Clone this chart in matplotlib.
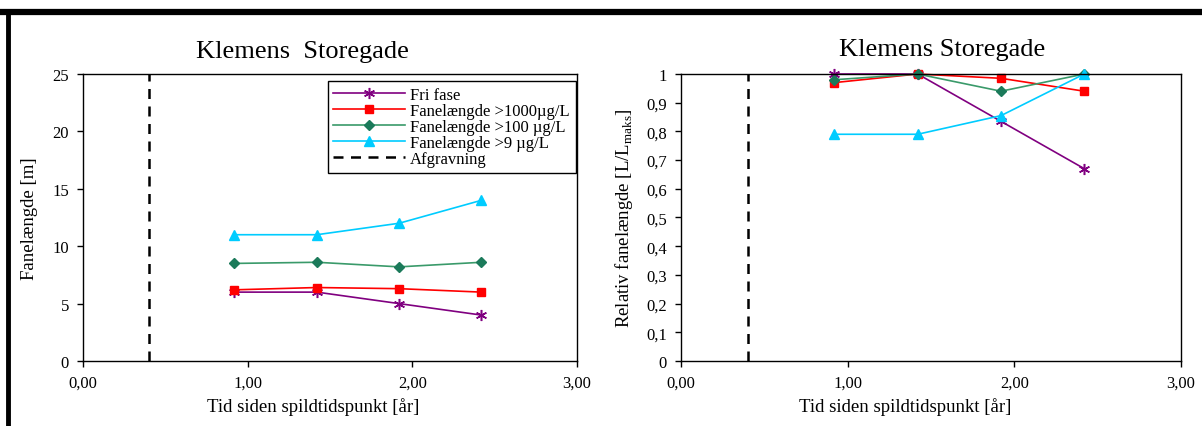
import matplotlib
matplotlib.use("Agg")
import matplotlib.pyplot as plt
from matplotlib.lines import Line2D
from matplotlib.ticker import FuncFormatter, MultipleLocator

plt.rcParams['font.family'] = ['Liberation Serif', 'DejaVu Serif']
plt.rcParams['mathtext.fontset'] = 'custom'
plt.rcParams['mathtext.rm'] = 'Liberation Serif'

# Data
tid = [0.92, 1.42, 1.92, 2.42]
afgravning = 0.4
series_names = ["Fri fase", "Fanelængde >1000µg/L", "Fanelængde >100 µg/L", "Fanelængde >9 µg/L"]
fri_fase = [6.0, 6.0, 5.0, 4.0]
fl_1000 = [6.2, 6.4, 6.3, 6.0]
fl_100 = [8.5, 8.6, 8.2, 8.6]
fl_9 = [11.0, 11.0, 12.0, 14.0]

rel_fri_fase = [1.0, 1.0, 0.835, 0.67]
rel_1000 = [0.97, 1.0, 0.985, 0.94]
rel_100 = [0.98, 1.0, 0.94, 1.0]
rel_9 = [0.79, 0.79, 0.855, 1.0]

styles = [
    dict(color='#800080', marker=(6, 2, 0), ms=8, mew=1.1, mec='#800080', mfc='#800080'),
    dict(color='#FF0000', marker='s', ms=6, mec='#FF0000', mfc='#FF0000'),
    dict(color='#3A9A6A', marker='D', ms=5, mec='#1B7A5A', mfc='#1B7A5A'),
    dict(color='#00CCFF', marker='^', ms=7, mec='#00CCFF', mfc='#00CCFF'),
]

fig = plt.figure(figsize=(12.02, 4.27), dpi=100)

def comma(fmt):
    return FuncFormatter(lambda v, p: (fmt % v).replace('.', ','))

def setup(ax, ymax, ystep, yfmt):
    ax.set_xlim(0, 3)
    ax.set_ylim(0, ymax)
    ax.xaxis.set_major_locator(MultipleLocator(1))
    ax.yaxis.set_major_locator(MultipleLocator(ystep))
    ax.xaxis.set_major_formatter(comma('%.2f'))
    ax.yaxis.set_major_formatter(yfmt)
    ax.tick_params(labelsize=12, direction='out', length=4, width=1, colors='black', pad=6)
    for s in ax.spines.values():
        s.set_linewidth(1.0)
        s.set_color('black')

# Left axes
ax1 = fig.add_axes([83/1202, 1-362/427, (577-83)/1202, (362-75)/427])
for vals, name, st in zip([fri_fase, fl_1000, fl_100, fl_9], series_names, styles):
    ax1.plot(tid, vals, lw=1.2, label=name, **st)
ax1.axvline(afgravning, color='black', lw=1.8, ls=(0, (4, 3)), label='Afgravning')
setup(ax1, 25, 5, FuncFormatter(lambda v, p: '%d' % v))
ax1.set_ylabel('Fanelængde [m]', fontsize=13.5, labelpad=10)
leg = ax1.legend(loc='upper right', bbox_to_anchor=(0.997, 0.975), fontsize=12,
                 frameon=True, fancybox=False, edgecolor='black', framealpha=1,
                 handlelength=4.3, borderpad=0.35, labelspacing=0.0, handletextpad=0.3,
                 borderaxespad=0.0)
leg.get_frame().set_linewidth(1.0)

# Right axes
ax2 = fig.add_axes([681/1202, 1-362/427, (1181-681)/1202, (362-75)/427])
for vals, name, st in zip([rel_fri_fase, rel_1000, rel_100, rel_9], series_names, styles):
    ax2.plot(tid, vals, lw=1.2, label=name, clip_on=False, **st)
ax2.axvline(afgravning, color='black', lw=1.8, ls=(0, (4, 3)))
setup(ax2, 1, 0.1, FuncFormatter(lambda v, p: '0' if abs(v) < 1e-9 else ('1' if abs(v-1) < 1e-9 else ('%.1f' % v).replace('.', ','))))
ax2.set_ylabel('Relativ fanelængde [L/L$_{\\mathrm{maks}}$]', fontsize=13.5, labelpad=8)

# Titles and x labels
fig.text(302/1202, 1-52/427, 'Klemens  Storegade', fontsize=19, ha='center', va='center')
fig.text(942/1202, 1-50/427, 'Klemens Storegade', fontsize=19, ha='center', va='center')
fig.text(313/1202, 1-407/427, 'Tid siden spildtidspunkt [år]', fontsize=13.5, ha='center', va='center')
fig.text(905/1202, 1-407/427, 'Tid siden spildtidspunkt [år]', fontsize=13.5, ha='center', va='center')

# Figure frame (top and left thick borders)
fig.add_artist(Line2D([0, 1], [1-12.5/427, 1-12.5/427], transform=fig.transFigure, color='black', lw=4.5))
fig.add_artist(Line2D([8/1202, 8/1202], [0, 1-12.5/427], transform=fig.transFigure, color='black', lw=3.5))

fig.savefig('out.png', dpi=100)
